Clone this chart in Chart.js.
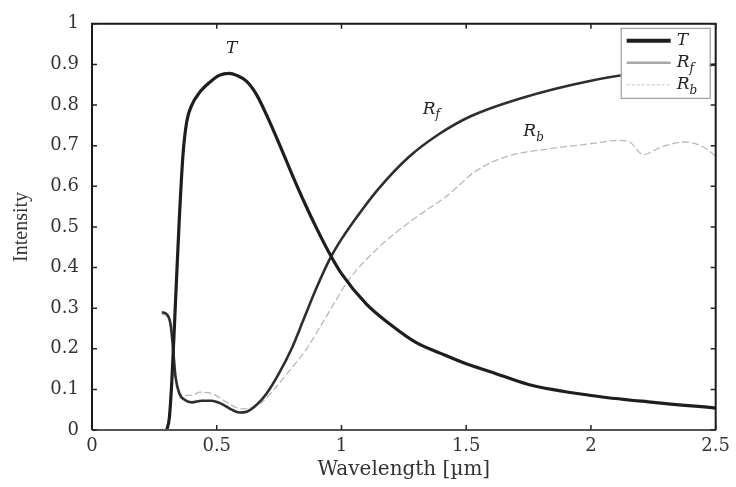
<!DOCTYPE html>
<html>
<head>
<meta charset="utf-8">
<script src="https://cdn.jsdelivr.net/npm/chart.js@4.4.0/dist/chart.umd.min.js"></script>
<style>
  html, body { margin: 0; padding: 0; background: #fff; }
  #wrap { width: 736px; height: 487px; }
</style>
</head>
<body>
<div id="wrap"><canvas id="chart"></canvas></div>
<script>
// Transmittance T
const tWavelength = [0.30, 0.31, 0.32, 0.335, 0.35, 0.365, 0.38, 0.40, 0.43, 0.47, 0.51, 0.55, 0.58, 0.62, 0.66, 0.70, 0.75, 0.80, 0.85, 0.90, 0.95, 1.0, 1.1, 1.2, 1.3, 1.4, 1.5, 1.6, 1.75, 2.0, 2.25, 2.5];
const tValues = [0, 0.03, 0.12, 0.32, 0.52, 0.68, 0.76, 0.80, 0.83, 0.855, 0.873, 0.878, 0.873, 0.858, 0.825, 0.775, 0.705, 0.632, 0.562, 0.497, 0.437, 0.385, 0.31, 0.258, 0.215, 0.188, 0.163, 0.143, 0.112, 0.085, 0.068, 0.054];

// Front reflectance Rf
const rfWavelength = [0.28, 0.30, 0.315, 0.325, 0.335, 0.35, 0.37, 0.40, 0.44, 0.48, 0.52, 0.56, 0.59, 0.62, 0.66, 0.70, 0.75, 0.80, 0.85, 0.90, 0.955, 1.0, 1.08, 1.15, 1.27, 1.39, 1.52, 1.72, 2.0, 2.2, 2.5];
const rfValues = [0.29, 0.285, 0.26, 0.20, 0.13, 0.09, 0.075, 0.068, 0.072, 0.072, 0.064, 0.05, 0.043, 0.045, 0.062, 0.09, 0.14, 0.20, 0.275, 0.35, 0.423, 0.47, 0.54, 0.595, 0.672, 0.728, 0.773, 0.817, 0.86, 0.88, 0.90];

// Back reflectance Rb
const rbWavelength = [0.28, 0.30, 0.315, 0.325, 0.335, 0.35, 0.37, 0.40, 0.43, 0.48, 0.535, 0.60, 0.64, 0.68, 0.73, 0.79, 0.855, 0.93, 1.03, 1.15, 1.28, 1.43, 1.535, 1.655, 1.83, 1.99, 2.11, 2.155, 2.21, 2.28, 2.375, 2.44, 2.5];
const rbValues = [0.285, 0.28, 0.255, 0.20, 0.13, 0.095, 0.085, 0.085, 0.093, 0.09, 0.07, 0.052, 0.055, 0.068, 0.10, 0.145, 0.195, 0.27, 0.37, 0.45, 0.515, 0.58, 0.636, 0.672, 0.692, 0.704, 0.713, 0.709, 0.678, 0.696, 0.709, 0.70, 0.675];

const xTickValues = [0, 0.5, 1, 1.5, 2, 2.5];
const xTickLabels = ['0', '0.5', '1', '1.5', '2', '2.5'];
const yTickValues = [0, 0.1, 0.2, 0.3, 0.4, 0.5, 0.6, 0.7, 0.8, 0.9, 1];
const yTickLabels = ['0', '0.1', '0.2', '0.3', '0.4', '0.5', '0.6', '0.7', '0.8', '0.9', '1'];

// curve annotations: main letter, subscript, position in data units
const noteMain = ['T', 'R', 'R'];
const noteSub = ['', 'f', 'b'];
const noteX = [0.56, 1.36, 1.77];
const noteY = [0.94, 0.79, 0.735];

function toPoints(xs, ys) {
  return xs.map((x, i) => ({ x: x, y: ys[i] }));
}

function drawSubText(ctx, main, sub, x, y, size, align) {
  ctx.font = 'italic ' + size + 'px "DejaVu Serif"';
  const w1 = ctx.measureText(main).width;
  ctx.font = 'italic ' + Math.round(size * 0.7) + 'px "DejaVu Serif"';
  const w2 = sub ? ctx.measureText(sub).width : 0;
  let left = align === 'center' ? x - (w1 + w2) / 2 : x;
  ctx.textAlign = 'left';
  ctx.textBaseline = 'middle';
  ctx.font = 'italic ' + size + 'px "DejaVu Serif"';
  ctx.fillText(main, left, y);
  if (sub) {
    ctx.font = 'italic ' + Math.round(size * 0.7) + 'px "DejaVu Serif"';
    ctx.fillText(sub, left + w1, y + size * 0.35);
  }
}

const framePlugin = {
  id: 'frame',
  afterDatasetsDraw(chart) {
    const ctx = chart.ctx;
    const a = chart.chartArea;
    const xs = chart.scales.x, ys = chart.scales.y;
    ctx.save();

    // annotations
    ctx.fillStyle = '#222';
    noteMain.forEach((m, i) => {
      drawSubText(ctx, m, noteSub[i], xs.getPixelForValue(noteX[i]), ys.getPixelForValue(noteY[i]), 17, 'center');
    });

    // box
    ctx.strokeStyle = '#1a1a1a';
    ctx.lineWidth = 2;
    ctx.beginPath();
    ctx.moveTo(a.left, a.bottom);
    ctx.lineTo(a.left, a.top);
    ctx.lineTo(a.right, a.top);
    ctx.lineTo(a.right, a.bottom);
    ctx.stroke();
    ctx.strokeStyle = '#555';
    ctx.beginPath();
    ctx.moveTo(a.left, a.bottom);
    ctx.lineTo(a.right, a.bottom);
    ctx.stroke();

    // inward ticks
    const tl = 5;
    ctx.strokeStyle = '#222';
    ctx.lineWidth = 1.5;
    ctx.beginPath();
    xTickValues.forEach(v => {
      const px = xs.getPixelForValue(v);
      ctx.moveTo(px, a.bottom); ctx.lineTo(px, a.bottom - tl);
      ctx.moveTo(px, a.top); ctx.lineTo(px, a.top + tl);
    });
    yTickValues.forEach(v => {
      const py = ys.getPixelForValue(v);
      ctx.moveTo(a.left, py); ctx.lineTo(a.left + tl, py);
      ctx.moveTo(a.right, py); ctx.lineTo(a.right - tl, py);
    });
    ctx.stroke();

    // legend
    const bw = 89, bh = 70;
    const bx = a.right - 6 - bw, by = a.top + 4;
    ctx.fillStyle = '#fff';
    ctx.fillRect(bx, by, bw, bh);
    ctx.strokeStyle = '#8a8a8a';
    ctx.lineWidth = 1;
    ctx.strokeRect(bx + 0.5, by + 0.5, bw, bh);
    const rows = [
      { main: 'T', sub: '', color: '#1e1e1e', width: 4, dash: [] },
      { main: 'R', sub: 'f', color: '#a8a8a8', width: 2.5, dash: [] },
      { main: 'R', sub: 'b', color: '#d6d6d6', width: 1.5, dash: [3, 2] }
    ];
    rows.forEach((r, i) => {
      const yy = by + 13 + i * 22;
      ctx.strokeStyle = r.color;
      ctx.lineWidth = r.width;
      ctx.setLineDash(r.dash);
      ctx.beginPath();
      ctx.moveTo(bx + 6, yy);
      ctx.lineTo(bx + 50, yy);
      ctx.stroke();
      ctx.setLineDash([]);
      ctx.fillStyle = '#222';
      drawSubText(ctx, r.main, r.sub, bx + 56, yy, 17, 'left');
    });
    ctx.restore();
  }
};

new Chart(document.getElementById('chart'), {
  type: 'line',
  data: {
    datasets: [
      {
        label: 'T',
        data: toPoints(tWavelength, tValues),
        borderColor: '#1e1e1e',
        borderWidth: 3.2,
        pointRadius: 0,
        cubicInterpolationMode: 'monotone'
      },
      {
        label: 'Rf',
        data: toPoints(rfWavelength, rfValues),
        borderColor: '#2e2e2e',
        borderWidth: 2.6,
        pointRadius: 0,
        cubicInterpolationMode: 'monotone'
      },
      {
        label: 'Rb',
        data: toPoints(rbWavelength, rbValues),
        borderColor: '#b8b8b8',
        borderWidth: 1.3,
        borderDash: [7, 3],
        pointRadius: 0,
        cubicInterpolationMode: 'monotone'
      }
    ]
  },
  options: {
    responsive: true,
    maintainAspectRatio: false,
    animation: false,
    layout: { padding: { top: 15, right: 18, left: 0, bottom: 0 } },
    plugins: {
      legend: { display: false },
      tooltip: { enabled: false }
    },
    scales: {
      x: {
        type: 'linear',
        min: 0,
        max: 2.5,
        afterFit: s => { s.height = 57; },
        afterBuildTicks: s => { s.ticks = xTickValues.map(v => ({ value: v })); },
        grid: { display: false, drawTicks: false },
        border: { display: false },
        ticks: {
          padding: 6,
          color: '#333',
          font: { family: '"DejaVu Serif"', size: 18 },
          callback: (v) => xTickLabels[xTickValues.indexOf(v)]
        },
        title: {
          display: true,
          text: 'Wavelength [µm]',
          color: '#333',
          font: { family: '"DejaVu Serif"', size: 20 },
          padding: { top: 0, bottom: 5 }
        }
      },
      y: {
        min: 0,
        max: 1,
        afterFit: s => { s.width = 92; },
        afterBuildTicks: s => { s.ticks = yTickValues.map(v => ({ value: v })); },
        grid: { display: false, drawTicks: false },
        border: { display: false },
        ticks: {
          padding: 13,
          color: '#333',
          font: { family: '"DejaVu Serif"', size: 18 },
          callback: (v) => yTickLabels[yTickValues.indexOf(v)]
        },
        title: {
          display: true,
          text: 'Intensity',
          color: '#333',
          font: { family: '"Liberation Serif"', size: 20 },
          padding: { top: 10, bottom: 0 }
        }
      }
    }
  },
  plugins: [framePlugin]
});
</script>
</body>
</html>
